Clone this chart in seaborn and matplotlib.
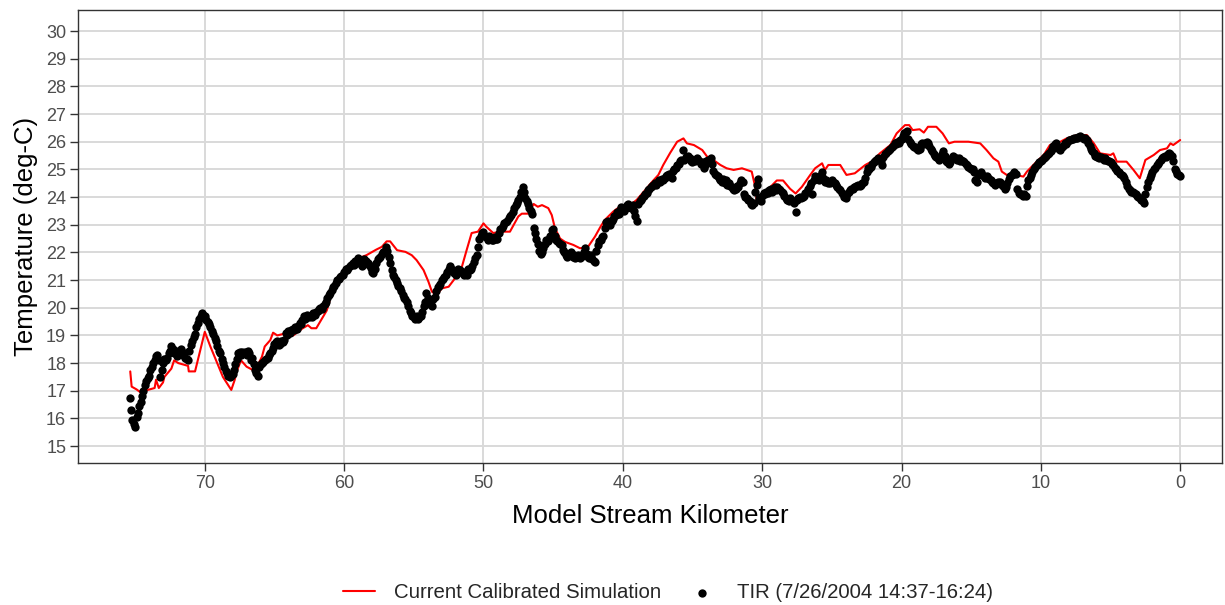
import numpy as np
import pandas as pd
import matplotlib
matplotlib.use("Agg")
import matplotlib.pyplot as plt
import seaborn as sns

# ---- Simulation (red line): model stream km and temperature ----
sim_km = [75.35, 75.25, 74.9, 74.55, 74.1, 73.6, 73.5, 73.3, 73.0, 72.9, 72.4, 72.2, 71.9, 71.2, 71.15,
          70.7, 70.0, 69.6, 68.7, 68.1, 67.85, 67.75, 67.4, 67.0, 66.55, 66.2, 65.9, 65.7, 65.3, 65.1,
          64.8, 64.4, 63.65, 63.0, 62.6, 62.35, 62.0, 61.25, 60.9, 60.55, 60.2, 59.6, 58.9, 58.4, 57.7,
          57.3, 56.95, 56.7, 56.2, 55.6, 55.15, 54.8, 54.3, 53.95, 53.7, 53.35, 53.0, 52.5, 52.05, 51.55,
          51.2, 50.85, 50.4, 50.0, 49.8, 49.3, 48.8, 48.1, 47.5, 47.25, 46.8, 46.4, 46.1, 45.8, 45.35,
          45.1, 44.87, 44.5, 44.15, 43.55, 43.07, 42.5, 42.0, 41.6, 41.3, 40.7, 40.1, 39.5, 39.0, 38.4,
          37.9, 37.45, 37.1, 36.6, 36.1, 35.65, 35.4, 34.9, 34.3, 33.95, 33.5, 33.0, 32.55, 32.05, 31.45,
          31.1, 30.75, 30.5, 30.4, 30.0, 29.4, 28.95, 28.5, 28.0, 27.6, 27.15, 26.55, 26.2, 25.7, 25.5,
          25.25, 24.4, 23.95, 23.35, 22.6, 22.15, 21.55, 20.8, 20.35, 19.75, 19.45, 19.2, 18.7, 18.4, 18.1,
          17.5, 17.05, 16.6, 16.2, 15.2, 14.35, 13.9, 13.4, 13.05, 12.8, 12.45, 11.85, 11.25, 11.0, 10.3,
          9.8, 9.35, 8.6, 8.15, 7.4, 6.7, 6.2, 5.75, 5.0, 4.8, 4.55, 3.85, 3.35, 2.9, 2.5,
          1.9, 1.45, 0.95, 0.7, 0.5, 0.0]
sim_temp = [17.7, 17.15, 17.05, 16.92, 17.03, 17.1, 17.4, 17.1, 17.3, 17.5, 17.8, 18.1, 18.0, 17.9, 17.7,
            17.7, 19.13, 18.6, 17.5, 17.03, 17.4, 17.65, 18.1, 17.87, 17.75, 17.93, 18.23, 18.6, 18.83, 19.1,
            19.0, 19.05, 19.0, 19.25, 19.37, 19.26, 19.26, 19.9, 20.5, 20.8, 21.1, 21.4, 21.8, 21.9, 22.1,
            22.2, 22.4, 22.4, 22.08, 22.02, 21.9, 21.72, 21.36, 20.94, 20.58, 20.46, 20.7, 20.76, 21.06, 21.48,
            22.1, 22.7, 22.75, 23.05, 22.93, 22.7, 22.75, 22.75, 23.3, 23.4, 23.4, 23.75, 23.65, 23.71, 23.6,
            23.35, 22.87, 22.5, 22.38, 22.27, 22.15, 22.2, 22.57, 22.93, 23.17, 23.47, 23.7, 23.7, 23.9, 24.25,
            24.55, 24.8, 25.16, 25.6, 26.0, 26.12, 25.94, 25.88, 25.7, 25.46, 25.34, 25.16, 25.04, 24.98, 25.04,
            24.98, 24.92, 24.37, 23.9, 24.13, 24.37, 24.6, 24.6, 24.3, 24.13, 24.37, 24.8, 25.04, 25.22, 24.98,
            25.16, 25.16, 24.8, 24.86, 25.16, 25.28, 25.58, 25.88, 26.3, 26.6, 26.6, 26.42, 26.45, 26.33, 26.54,
            26.54, 26.3, 25.94, 26.0, 26.0, 25.94, 25.7, 25.4, 25.28, 24.92, 24.8, 24.8, 24.74, 24.92, 25.28,
            25.52, 25.88, 26.0, 26.12, 26.24, 26.24, 25.94, 25.58, 25.52, 25.58, 25.28, 25.28, 24.98, 24.68, 25.34,
            25.52, 25.7, 25.76, 25.94, 25.88, 26.06]

# ---- TIR observations (black points): every 0.1 km from 75.4 down to 0.0 ----
tir_km = np.round(np.arange(754, -1, -1) / 10.0, 1)
tir_temp = [
    16.74, 16.3, 15.95, 15.8, 15.7,
    16.05, 16.2, 16.45, 16.6, 16.8, 17.0, 17.2, 17.35, 17.45, 17.55,
    17.75, 17.85, 18.0, 18.1, 18.25, 18.3, 18.1, 17.5, 17.75, 18.0,
    18.15, 18.1, 18.2, 18.35, 18.45, 18.6, 18.5, 18.35, 18.45, 18.25,
    18.3, 18.4, 18.5, 18.3, 18.35, 18.2, 18.15, 18.1, 18.45, 18.65,
    18.8, 18.95, 19.05, 19.3, 19.45, 19.6, 19.7, 19.8, 19.75, 19.7,
    19.55, 19.5, 19.4, 19.3, 19.15, 19.05, 18.9, 18.8, 18.6, 18.45,
    18.35, 18.15, 18.0, 17.85, 17.7, 17.65, 17.55, 17.5, 17.55, 17.6,
    17.75, 17.95, 18.15, 18.35, 18.4, 18.3, 18.4, 18.35, 18.4, 18.3,
    18.45, 18.35, 18.1, 18.2, 17.95, 17.75, 17.65, 17.55, 17.85, 17.95,
    18.0, 18.05, 18.1, 18.15, 18.2, 18.3, 18.35, 18.45, 18.55, 18.7,
    18.75, 18.8, 18.65, 18.7, 18.8, 18.75, 18.85, 19.1, 19.0, 19.15,
    19.1, 19.2, 19.25, 19.2, 19.3, 19.25, 19.35, 19.45, 19.4, 19.55,
    19.7, 19.6, 19.75, 19.7, 19.65, 19.7, 19.65, 19.8, 19.75, 19.85,
    19.9, 19.95, 20.0, 19.95, 20.05, 20.15, 20.2, 20.35, 20.45, 20.55,
    20.65, 20.75, 20.8, 20.9, 21.0, 21.05, 21.1, 21.15, 21.2, 21.3,
    21.4, 21.35, 21.45, 21.5, 21.55, 21.6, 21.55, 21.7, 21.65, 21.8,
    21.6, 21.7, 21.5, 21.75, 21.65, 21.7, 21.6, 21.55, 21.45, 21.3,
    21.25, 21.4, 21.6, 21.75, 21.8, 21.85, 21.95, 22.0, 22.05, 22.2,
    22.05, 21.85, 21.6, 21.35, 21.2, 21.1, 21.0, 20.9, 20.8, 20.7,
    20.6, 20.45, 20.35, 20.3, 20.2, 20.05, 19.9, 19.8, 19.7, 19.65,
    19.6, 19.7, 19.6, 19.65, 19.7, 19.85, 20.05, 20.2, 20.55, 20.35,
    20.25, 20.1, 20.05, 20.3, 20.4, 20.6, 20.75, 20.8, 20.85, 21.0,
    21.05, 21.1, 21.2, 21.3, 21.4, 21.5, 21.4, 21.35, 21.25, 21.2,
    21.3, 21.4, 21.35, 21.3, 21.25, 21.2, 21.3, 21.2, 21.4, 21.35,
    21.4, 21.5, 21.65, 21.8, 21.9, 22.2, 22.5, 22.6, 22.7, 22.75,
    22.6, 22.55, 22.45, 22.6, 22.5, 22.45, 22.45, 22.55, 22.5, 22.5,
    22.7, 22.85, 22.9, 22.95, 23.05, 23.1, 23.15, 23.25, 23.3, 23.35,
    23.45, 23.6, 23.7, 23.8, 23.9, 24.0, 24.2, 24.35, 24.2, 23.95,
    23.85, 23.75, 23.6, 23.5, 23.4, 22.9, 22.7, 22.5, 22.3, 22.05,
    21.95, 22.0, 22.15, 22.3, 22.45, 22.4, 22.5, 22.6, 22.8, 22.85,
    22.6, 22.45, 22.4, 22.35, 22.3, 22.25, 22.1, 22.0, 21.9, 21.85,
    21.95, 21.9, 22.0, 21.85, 21.9, 21.8, 21.85, 21.9, 21.8, 21.85,
    21.9, 22.0, 22.15, 21.95, 21.85, 21.8, 21.9, 21.75, 21.7, 21.65,
    22.05, 22.25, 22.4, 22.45, 22.55, 22.6, 22.9, 23.1, 23.15, 23.05,
    23.0, 23.15, 23.2, 23.3, 23.35, 23.45, 23.4, 23.55, 23.65, 23.6,
    23.5, 23.6, 23.7, 23.75, 23.65, 23.6, 23.7, 23.5, 23.3, 23.15,
    23.75, 23.85, 23.9, 23.95, 24.05, 24.1, 24.15, 24.25, 24.3, 24.35,
    24.4, 24.45, 24.5, 24.45, 24.55, 24.6, 24.55, 24.65, 24.6, 24.7,
    24.75, 24.8, 24.85, 24.75, 24.7, 24.95, 25.0, 25.05, 25.15, 25.2,
    25.3, 25.35, 25.7, 25.35, 25.45, 25.4, 25.5, 25.4, 25.3, 25.25,
    25.35, 25.3, 25.4, 25.35, 25.3, 25.2, 25.25, 25.05, 25.15, 25.3,
    25.35, 25.3, 25.4, 25.2, 24.95, 24.85, 24.8, 24.75, 24.7, 24.6,
    24.55, 24.65, 24.5, 24.6, 24.45, 24.5, 24.4, 24.35, 24.3, 24.25,
    24.3, 24.4, 24.35, 24.5, 24.6, 24.55, 24.1, 24.0, 23.95, 23.9,
    23.85, 23.75, 23.7, 23.8, 24.2, 24.45, 24.65, 23.95, 23.85, 24.05,
    24.15, 24.1, 24.2, 24.15, 24.25, 24.3, 24.2, 24.3, 24.35, 24.25,
    24.35, 24.3, 24.25, 24.2, 24.15, 24.05, 23.95, 23.9, 23.85, 23.95,
    23.9, 23.85, 23.8, 23.45, 23.9, 23.95, 24.0, 23.95, 24.0, 24.05,
    24.15, 24.2, 24.3, 24.4, 24.5, 24.1, 24.6, 24.75, 24.65, 24.7,
    24.6, 24.8, 24.9, 24.7, 24.55, 24.6, 24.5, 24.55, 24.5, 24.6,
    24.55, 24.5, 24.45, 24.35, 24.3, 24.25, 24.15, 24.1, 24.0, 23.95,
    24.1, 24.2, 24.25, 24.3, 24.3, 24.35, 24.4, 24.4, 24.45, 24.4,
    24.45, 24.5, 24.55, 24.7, 24.9, 25.05, 25.0, 25.1, 25.2, 25.25,
    25.3, 25.35, 25.4, 25.35, 25.3, 25.15, 25.45, 25.55, 25.6, 25.65,
    25.7, 25.75, 25.8, 25.85, 25.95, 25.9, 26.0, 25.95, 26.05, 26.1,
    26.2, 26.3, 26.35, 26.4, 26.1, 26.0, 25.9, 25.85, 25.8, 25.8,
    25.75, 25.7, 25.75, 25.9, 25.95, 25.9, 25.95, 26.0, 25.95, 25.85,
    25.75, 25.65, 25.55, 25.5, 25.45, 25.4, 25.35, 25.4, 25.55, 25.65,
    25.5, 25.3, 25.25, 25.2, 25.25, 25.4, 25.5, 25.45, 25.4, 25.35,
    25.4, 25.3, 25.35, 25.3, 25.25, 25.2, 25.15, 25.1, 25.05, 25.0,
    25.0, 24.9, 24.6, 24.55, 24.8, 24.85, 24.9, 24.8, 24.75, 24.7,
    24.75, 24.7, 24.65, 24.6, 24.55, 24.5, 24.45, 24.5, 24.55, 24.5,
    24.55, 24.45, 24.4, 24.3, 24.35, 24.5, 24.65, 24.75, 24.8, 24.85,
    24.9, 24.85, 24.3, 24.15, 24.1, 24.1, 24.05, 24.1, 24.05, 24.4,
    24.6, 24.7, 24.8, 24.9, 25.0, 25.1, 25.15, 25.2, 25.25, 25.3,
    25.35, 25.4, 25.45, 25.5, 25.55, 25.6, 25.65, 25.75, 25.85, 25.9,
    25.95, 25.8, 25.75, 25.7, 25.8, 25.85, 25.95, 25.9, 26.0, 26.05,
    26.05, 26.1, 26.1, 26.12, 26.15, 26.15, 26.18, 26.2, 26.18, 26.15,
    26.1, 26.12, 26.05, 25.95, 25.85, 25.75, 25.65, 25.6, 25.5, 25.45,
    25.5, 25.4, 25.45, 25.4, 25.35, 25.4, 25.35, 25.3, 25.3, 25.25,
    25.2, 25.15, 25.05, 25.0, 24.95, 24.9, 24.85, 24.8, 24.75, 24.7,
    24.55, 24.4, 24.3, 24.25, 24.2, 24.2, 24.15, 24.1, 24.05, 24.0,
    23.95, 23.9, 23.85, 23.8, 24.1, 24.35, 24.55, 24.7, 24.8, 24.9,
    25.0, 25.05, 25.15, 25.2, 25.25, 25.35, 25.4, 25.45, 25.5, 25.45,
    25.55, 25.6, 25.55, 25.5, 25.3, 25.0, 24.95, 24.85, 24.8, 24.75,
]
assert len(tir_temp) == len(tir_km)

x_ticks = [70, 60, 50, 40, 30, 20, 10, 0]
y_ticks = list(range(15, 31))
sim_label = "Current Calibrated Simulation"
tir_label = "TIR (7/26/2004 14:37-16:24)"
x_title = "Model Stream Kilometer"
y_title = "Temperature (deg-C)"

sim_df = pd.DataFrame({"km": sim_km, "temp": sim_temp})
tir_df = pd.DataFrame({"km": tir_km, "temp": tir_temp})

sns.set_theme(style="white")
plt.rcParams["font.family"] = ["Liberation Sans", "DejaVu Sans"]

fig = plt.figure(figsize=(12.25, 6.05), dpi=100)
ax = fig.add_axes([78 / 1225, 1 - 463 / 605, (1222 - 78) / 1225, (463 - 10) / 605])

sns.lineplot(data=sim_df, x="km", y="temp", sort=False, estimator=None,
             color="#FF0000", linewidth=1.5, ax=ax, label=sim_label, zorder=3)
sns.scatterplot(data=tir_df, x="km", y="temp", color="black", s=36,
                linewidth=0, ax=ax, label=tir_label, zorder=4)

ax.set_xlim(79.1, -3.0)
ax.set_ylim(14.39, 30.76)
ax.set_xticks(x_ticks)
ax.set_yticks(y_ticks)
ax.grid(True, color="#D9D9D9", linewidth=1.4, zorder=0)
ax.set_axisbelow(True)
for sp in ax.spines.values():
    sp.set_visible(True)
    sp.set_color("#333333")
    sp.set_linewidth(1.0)
ax.tick_params(axis="both", which="major", length=5.5, width=1.0, color="#333333",
               labelcolor="#4D4D4D", labelsize=13, direction="out",
               bottom=True, left=True, pad=3)
ax.set_xlabel(x_title, fontsize=18.5, color="black", labelpad=9)
ax.set_ylabel(y_title, fontsize=18.5, color="black", labelpad=6)

handles, labels = ax.get_legend_handles_labels()
ax.get_legend().remove()
fig.legend(handles, labels, loc="center", bbox_to_anchor=(0.545, 1 - 593 / 605),
           ncol=2, frameon=False, fontsize=14.7, handlelength=1.6,
           columnspacing=1.2, handletextpad=0.9, markerscale=1.0)

fig.savefig("out.png", dpi=100, facecolor="white")
